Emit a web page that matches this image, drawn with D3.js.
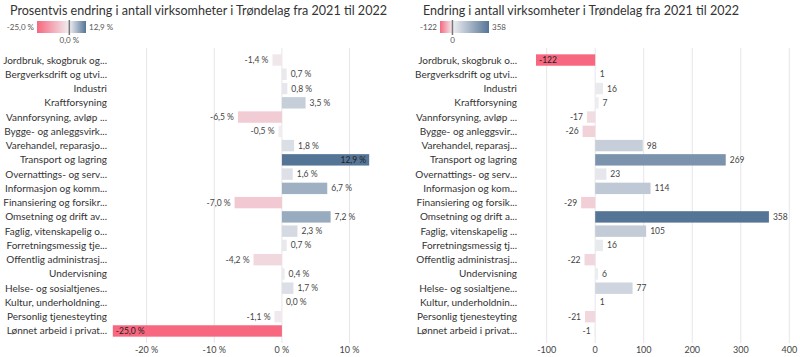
<!DOCTYPE html>
<html><head><meta charset="utf-8">
<script src="https://cdn.jsdelivr.net/npm/d3@7"></script>
<style>
html,body{margin:0;padding:0;background:#fff;}
svg{display:block;}
text{font-family:Lato, "Open Sans", sans-serif;}
</style></head>
<body>
<svg id="c" width="800" height="357"></svg>
<script>
const categoriesLeft = ["Jordbruk, skogbruk og...","Bergverksdrift og utvi...","Industri","Kraftforsyning","Vannforsyning, avløp ...","Bygge- og anleggsvirk...","Varehandel, reparasjo...","Transport og lagring","Overnattings- og serv...","Informasjon og komm...","Finansiering og forsikr...","Omsetning og drift av...","Faglig, vitenskapelig o...","Forretningsmessig tje...","Offentlig administrasj...","Undervisning","Helse- og sosialtjenes...","Kultur, underholdning...","Personlig tjenesteyting","Lønnet arbeid i privat..."];
const categoriesRight = ["Jordbruk, skogbruk o...","Bergverksdrift og utvi...","Industri","Kraftforsyning","Vannforsyning, avløp ...","Bygge- og anleggsvir...","Varehandel, reparasj...","Transport og lagring","Overnattings- og serv...","Informasjon og kom...","Finansiering og forsik...","Omsetning og drift a...","Faglig, vitenskapelig ...","Forretningsmessig tj...","Offentlig administrasj...","Undervisning","Helse- og sosialtjene...","Kultur, underholdnin...","Personlig tjenesteyting","Lønnet arbeid i privat..."];
const pctValues = [-1.4,0.7,0.8,3.5,-6.5,-0.5,1.8,12.9,1.6,6.7,-7.0,7.2,2.3,0.7,-4.2,0.4,1.7,0.0,-1.1,-25.0];
const countValues = [-122,1,16,7,-17,-26,98,269,23,114,-29,358,105,16,-22,6,77,1,-21,-1];
const pctTicks = [-20,-10,0,10];
const countTicks = [-100,0,100,200,300,400];
const titleLeft = "Prosentvis endring i antall virksomheter i Trøndelag fra 2021 til 2022";
const titleRight = "Endring i antall virksomheter i Trøndelag fra 2021 til 2022";

const svg = d3.select("#c");
const fmtPct = v => v.toFixed(1).replace(".", ",") + " %";
const fmtTickPct = v => String(v) + " %";
const fmtCount = v => String(v);

function panel(o){
  const g = svg.append("g");
  const x = d3.scaleLinear().domain(o.domain).range(o.range);
  const y = d3.scaleBand().domain(o.cats).range([52.9, 338.1]).paddingInner(0.2).paddingOuter(0.1);
  const mn = d3.min(o.values), mx = d3.max(o.values);
  const color = d3.scaleLinear().domain([mn, 0, mx]).range(["#f7677f", "#f0eff2", "#557596"]);

  g.append("text").attr("x", o.titleX).attr("y", 15).attr("font-size", 14).attr("fill", "#333")
    .text(o.title).attr("textLength", o.titleW).attr("lengthAdjust", "spacingAndGlyphs");

  const lx0 = o.legX, lw = 49;
  const lz = lx0 + lw * (-mn) / (mx - mn);
  const defs = svg.append("defs");
  const gn = defs.append("linearGradient").attr("id", o.id + "n");
  gn.append("stop").attr("offset", "0%").attr("stop-color", color(mn));
  gn.append("stop").attr("offset", "100%").attr("stop-color", color(0));
  const gp = defs.append("linearGradient").attr("id", o.id + "p");
  gp.append("stop").attr("offset", "0%").attr("stop-color", color(0));
  gp.append("stop").attr("offset", "100%").attr("stop-color", color(mx));
  g.append("rect").attr("x", lx0).attr("y", 21).attr("width", lz - lx0).attr("height", 12).attr("fill", `url(#${o.id}n)`);
  g.append("rect").attr("x", lz).attr("y", 21).attr("width", lx0 + lw - lz).attr("height", 12).attr("fill", `url(#${o.id}p)`);
  g.append("line").attr("x1", lz).attr("x2", lz).attr("y1", 20).attr("y2", 35).attr("stroke", "#777").attr("stroke-width", 1.5);
  g.append("text").attr("x", lx0 - 3).attr("y", 30).attr("text-anchor", "end").attr("font-size", 8).attr("fill", "#555").text(o.fmt(mn));
  g.append("text").attr("x", lx0 + lw + 3).attr("y", 30).attr("font-size", 8).attr("fill", "#555").text(o.fmt(mx));
  g.append("text").attr("x", lz).attr("y", 43).attr("text-anchor", "middle").attr("font-size", 8).attr("fill", "#555").text(o.fmt(0));

  g.selectAll(".grid").data(o.ticks).join("line")
    .attr("x1", d => x(d)).attr("x2", d => x(d)).attr("y1", 48).attr("y2", 343)
    .attr("stroke", "#e6e6e6").attr("stroke-width", 1);
  g.selectAll(".tick").data(o.ticks).join("text")
    .attr("x", d => x(d)).attr("y", 353).attr("text-anchor", "middle").attr("font-size", 9).attr("fill", "#444")
    .text(o.tickFmt);

  g.selectAll(".cat").data(o.cats).join("text")
    .attr("x", o.labelX).attr("y", d => y(d) + y.bandwidth() / 2).attr("dy", "0.35em")
    .attr("text-anchor", "end").attr("font-size", 10).attr("fill", "#333").text(d => d);

  const rows = o.cats.map((c, i) => ({c, v: o.values[i]}));
  g.selectAll(".bar").data(rows).join("rect")
    .attr("x", d => x(Math.min(0, d.v))).attr("width", d => Math.abs(x(d.v) - x(0)))
    .attr("y", d => y(d.c)).attr("height", y.bandwidth())
    .attr("fill", d => color(d.v));

  const [r0, r1] = o.range;
  g.selectAll(".val").data(rows).join("text")
    .attr("font-size", 8.5).attr("fill", "#444")
    .attr("y", d => y(d.c) + y.bandwidth() / 2).attr("dy", "0.35em")
    .text(d => o.fmt(d.v))
    .each(function(d){
      const t = d3.select(this);
      const w = this.getComputedTextLength();
      const xe = x(d.v);
      if (d.v >= 0) {
        if (xe + 4 + w > r1) t.attr("x", xe - 3).attr("text-anchor", "end").attr("fill", "#222");
        else t.attr("x", xe + 4).attr("text-anchor", "start");
      } else {
        if (xe - 4 - w < r0) t.attr("x", xe + 3).attr("text-anchor", "start").attr("fill", "#222");
        else t.attr("x", xe - 4).attr("text-anchor", "end");
      }
    });
}

panel({id:"L", cats: categoriesLeft, values: pctValues, ticks: pctTicks, domain:[-25, 14.5], range:[112.8, 380],
  fmt: fmtPct, tickFmt: fmtTickPct, labelX: 107, title: titleLeft, titleX: 10, titleW: 377, legX: 37});
panel({id:"R", cats: categoriesRight, values: countValues, ticks: countTicks, domain:[-122, 400], range:[536, 789.3],
  fmt: fmtCount, tickFmt: fmtCount, labelX: 517, title: titleRight, titleX: 423, titleW: 316, legX: 440});
</script>
</body></html>
